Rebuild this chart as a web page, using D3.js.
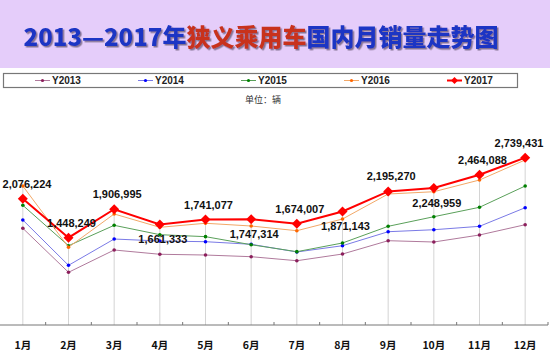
<!DOCTYPE html>
<html>
<head>
<meta charset="utf-8">
<script src="https://cdn.jsdelivr.net/npm/d3@7"></script>
<style>
  body { margin: 0; background: #fff; }
  svg { display: block; }
</style>
</head>
<body>
<div id="chart"></div>
<script>
let months = ["1月", "2月", "3月", "4月", "5月", "6月", "7月", "8月", "9月", "10月", "11月", "12月"];
let seriesNames = ["Y2013", "Y2014", "Y2015", "Y2016", "Y2017"];

let y2013 = [1600000, 890000, 1250000, 1181000, 1169000, 1142000, 1077000, 1185000, 1400000, 1379000, 1492000, 1658000];
let y2014 = [1734000, 1003000, 1427000, 1395000, 1384000, 1342000, 1218000, 1319000, 1545000, 1577000, 1632000, 1932000];
let y2015 = [1971000, 1319000, 1648000, 1497000, 1465000, 1335000, 1223000, 1363000, 1632000, 1787000, 1939000, 2282000];
let y2016 = [2282000, 1294000, 1831000, 1616000, 1681000, 1637000, 1561000, 1750000, 2153000, 2190000, 2379000, 2702000];
let y2017 = [2076224, 1448249, 1906995, 1661333, 1741077, 1747314, 1674007, 1871143, 2195270, 2248959, 2464088, 2739431];

// label above / below for the 2017 values
let labelSide = ["up", "up", "up", "down", "up", "down", "up", "down", "up", "down", "up", "up"];

let W = 550, H = 358;
let svg = d3.select("#chart").append("svg").attr("width", W).attr("height", H);

// shadow filter for the title
let f = svg.append("defs").append("filter").attr("id", "shadow")
  .attr("x", "-5%").attr("y", "-20%").attr("width", "110%").attr("height", "140%");
f.append("feDropShadow").attr("dx", 1.5).attr("dy", 1.5).attr("stdDeviation", 0.4)
  .attr("flood-color", "#7a6a88").attr("flood-opacity", 0.9);

// title band
svg.append("rect").attr("x", 0).attr("y", 0).attr("width", W).attr("height", 68).attr("fill", "#e5cdfa");

let title = svg.append("text")
  .attr("x", 261).attr("y", 35)
  .attr("text-anchor", "middle")
  .attr("dominant-baseline", "central")
  .attr("filter", "url(#shadow)")
  .style("font-family", "'Noto Sans CJK SC', sans-serif")
  .style("font-weight", "900")
  .style("font-size", "24px");
title.append("tspan").text("2013—2017年").attr("fill", "#1a36c4");
title.append("tspan").text("狭义乘用车").attr("fill", "#c8321c");
title.append("tspan").text("国内月销量走势图").attr("fill", "#1a36c4");

let styles = [
  { line: "#b07a9c", mark: "#8c1f5c", w: 1 },
  { line: "#7a7ae6", mark: "#0000ff", w: 1 },
  { line: "#5aa05a", mark: "#008000", w: 1 },
  { line: "#f2a868", mark: "#ff6600", w: 1 },
  { line: "#ff0000", mark: "#ff0000", w: 2 }
];
let allSeries = [y2013, y2014, y2015, y2016, y2017];

function diamond(r) {
  return "M0," + -r + "L" + r + ",0L0," + r + "L" + -r + ",0Z";
}

// legend
svg.append("rect").attr("x", 3.5).attr("y", 73.5).attr("width", 514).attr("height", 14)
  .attr("fill", "#fff").attr("stroke", "#777").attr("stroke-width", 1.2);
let legend = svg.selectAll(".legend").data(seriesNames).enter().append("g")
  .attr("class", "legend")
  .attr("transform", function (d, i) { return "translate(" + (35 + i * 103) + ",80.5)"; });
legend.append("line").attr("x1", 0).attr("x2", 15).attr("y1", 0).attr("y2", 0)
  .attr("stroke", function (d, i) { return styles[i].line; })
  .attr("stroke-width", function (d, i) { return styles[i].w; });
legend.each(function (d, i) {
  let g = d3.select(this);
  if (i == 4) {
    g.append("path").attr("d", diamond(3.5)).attr("transform", "translate(7.5,0)").attr("fill", styles[i].mark);
  } else {
    g.append("circle").attr("cx", 7.5).attr("cy", 0).attr("r", 1.6).attr("fill", styles[i].mark);
  }
});
legend.append("text").attr("x", 17).attr("y", 0).attr("dominant-baseline", "central")
  .style("font-family", "'Liberation Sans', Arial, sans-serif")
  .style("font-weight", "bold").style("font-size", "10px").attr("fill", "#222")
  .text(function (d) { return d; });

svg.append("text").attr("x", 263).attr("y", 99).attr("text-anchor", "middle")
  .attr("dominant-baseline", "central")
  .style("font-family", "'Noto Sans CJK SC', sans-serif").style("font-size", "9px").attr("fill", "#333")
  .text("单位：辆");

// scales
let x = d3.scaleBand().domain(months).range([0, 548]);
let y = d3.scaleLinear().domain([0, 3000000]).range([327.5, 141.5]);
let cx = function (i) { return x(months[i]) + x.bandwidth() / 2; };
let axisY = 325;

// drop lines from highest point
svg.selectAll(".drop").data(months).enter().append("line")
  .attr("x1", function (d, i) { return cx(i); })
  .attr("x2", function (d, i) { return cx(i); })
  .attr("y1", function (d, i) { return y(d3.max(allSeries, function (s) { return s[i]; })); })
  .attr("y2", axisY)
  .attr("stroke", "#d4d4d4").attr("stroke-width", 1);

// axis
svg.append("line").attr("x1", 0).attr("x2", 548).attr("y1", axisY).attr("y2", axisY)
  .attr("stroke", "#777").attr("stroke-width", 1);
let ticks = d3.range(1, 13).map(function (i) { return i * x.step(); });
svg.selectAll(".tick").data(ticks).enter().append("line")
  .attr("x1", function (d) { return d; }).attr("x2", function (d) { return d; })
  .attr("y1", axisY).attr("y2", axisY - 3).attr("stroke", "#777");
svg.selectAll(".xlab").data(months).enter().append("text")
  .attr("x", function (d, i) { return cx(i); }).attr("y", 344)
  .attr("text-anchor", "middle").attr("dominant-baseline", "central")
  .style("font-family", "'Noto Sans CJK SC', sans-serif")
  .style("font-weight", "bold").style("font-size", "10.5px").attr("fill", "#111")
  .text(function (d) { return d; });

// series
let line = d3.line().x(function (d, i) { return cx(i); }).y(function (d) { return y(d); });
allSeries.forEach(function (s, k) {
  svg.append("path").datum(s).attr("d", line).attr("fill", "none")
    .attr("stroke", styles[k].line).attr("stroke-width", styles[k].w);
  if (k == 4) {
    svg.selectAll(".pt" + k).data(s).enter().append("path")
      .attr("d", diamond(5))
      .attr("transform", function (d, i) { return "translate(" + cx(i) + "," + y(d) + ")"; })
      .attr("fill", styles[k].mark);
  } else {
    svg.selectAll(".pt" + k).data(s).enter().append("circle")
      .attr("cx", function (d, i) { return cx(i); }).attr("cy", function (d) { return y(d); })
      .attr("r", 1.8).attr("fill", styles[k].mark);
  }
});

// data labels for 2017
let fmt = d3.format(",");
svg.selectAll(".lab").data(y2017).enter().append("text")
  .attr("x", function (d, i) { return Math.min(Math.max(cx(i) + 3, 27), 519); })
  .attr("y", function (d, i) { return y(d) + (labelSide[i] == "up" ? -15 : 15); })
  .attr("text-anchor", "middle").attr("dominant-baseline", "central")
  .style("font-family", "'Liberation Sans', Arial, sans-serif")
  .style("font-weight", "bold").style("font-size", "11px").attr("fill", "#111")
  .text(function (d) { return fmt(d); });
</script>
</body>
</html>
